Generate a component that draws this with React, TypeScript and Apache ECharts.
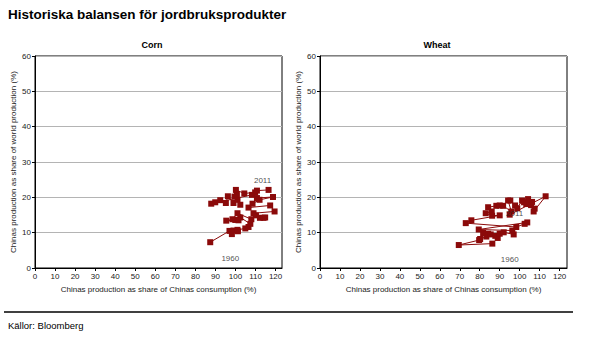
import React, { useEffect, useRef } from "react";
import * as echarts from "echarts";

const TITLE = "Historiska balansen för jordbruksprodukter";
const SOURCE = "Källor: Bloomberg";
const PANEL_TITLES = ["Corn", "Wheat"];
const X_NAME = "Chinas production as share of Chinas consumption (%)";
const Y_NAME = "Chinas production as share of world production (%)";
const X_TICKS = [0, 10, 20, 30, 40, 50, 60, 70, 80, 90, 100, 110, 120];
const Y_TICKS = [0, 10, 20, 30, 40, 50, 60];

// Corn: chronological path 1960 -> 2011
const cornX = [87.4, 97, 98.2, 99, 101.2, 101, 104.9, 106.5, 107.4, 102.4, 99.9, 101.5, 95.4, 98.5, 101, 107.9, 110.2, 112.2, 114, 114.8, 109, 119.5, 117.3, 106.5, 108.5, 112, 118.7, 110.7, 108.2, 87.9, 89.9, 92.4, 95.2, 96.2, 99, 101, 102.4, 99.5, 100.7, 100.2, 104.4, 109.8, 110.7, 116.5];
const cornY = [7.3, 10.5, 9.6, 10.6, 10.4, 10.8, 11.2, 11.6, 12.5, 14.3, 13.6, 13.5, 13.4, 13.8, 15.5, 13.8, 14.9, 14.2, 14.2, 14.3, 15.5, 16, 17.7, 17.1, 18.2, 19.3, 20.1, 19.8, 20.7, 18.2, 18.6, 19.2, 18.4, 20.3, 18.4, 19.3, 17.9, 20.2, 20.9, 22.1, 21.1, 21.4, 21.9, 22.1];

// Wheat: chronological path 1960 -> 2011
const wheatX = [86.3, 69.5, 79.7, 80.2, 83.3, 81.7, 84.2, 85.5, 89, 87.8, 90, 92, 97, 96.3, 79.5, 103.8, 102.5, 98.3, 73, 75.8, 90, 86.2, 83, 86, 84.2, 88.3, 90, 91.7, 95.8, 94.2, 95.3, 97.7, 98.8, 101.2, 102.2, 103.3, 104.2, 105.7, 106.2, 107.5, 107, 113, 95];
const wheatY = [6.9, 6.5, 7.9, 8.2, 8.9, 9.9, 9.7, 9.5, 8.5, 9.1, 9.7, 10.1, 9.5, 10.6, 10.9, 12.9, 12.5, 11.6, 12.7, 13.5, 14.9, 14.8, 15.5, 16, 17.2, 17.6, 17.7, 17.6, 16, 19.1, 19.1, 17.7, 16.9, 19.1, 18.6, 18.1, 19.5, 17.8, 18.7, 16.8, 16, 20.3, 15.1];

// Year annotations [x, y, text]
const cornLabels: [number, number, string][] = [[113.5, 24.7, "2011"], [97.4, 2.8, "1960"]];
const wheatLabels: [number, number, string][] = [[97.5, 15.5, "2011"], [95, 2.5, "1960"]];

const RED = "#8B0A0A";
const FONT = "Liberation Sans, Arial, sans-serif";

export default function App() {
  const ref = useRef<HTMLDivElement>(null);
  useEffect(() => {
    if (!ref.current) return;
    const chart = echarts.init(ref.current, undefined, { renderer: "svg" });
    const grids = [
      { left: 35, right: 315, top: 56, bottom: 91, show: true, borderColor: "#000", borderWidth: 1, backgroundColor: "#fff" },
      { left: 320, right: 30, top: 56, bottom: 91, show: true, borderColor: "#000", borderWidth: 1, backgroundColor: "#fff" },
    ];
    const xAxis = [0, 1].map((i) => ({
      type: "value",
      gridIndex: i,
      min: 0,
      max: i === 0 ? 123.2 : 123.7,
      name: X_NAME,
      nameLocation: "middle",
      nameGap: 17,
      nameTextStyle: { fontFamily: FONT, fontSize: 8, color: "#222" },
      axisLine: { show: true, lineStyle: { color: "#000" } },
      axisTick: { show: true, length: 3, lineStyle: { color: "#000" }, customValues: X_TICKS },
      axisLabel: { fontFamily: FONT, fontSize: 8, color: "#222", margin: 4, customValues: X_TICKS },
      splitLine: { show: false },
    }));
    const yAxis = [0, 1].map((i) => ({
      type: "value",
      gridIndex: i,
      min: Y_TICKS[0],
      max: Y_TICKS[Y_TICKS.length - 1],
      interval: 10,
      name: Y_NAME,
      nameLocation: "middle",
      nameGap: 18,
      nameTextStyle: { fontFamily: FONT, fontSize: 8, color: "#222" },
      axisLine: { show: true, lineStyle: { color: "#000" } },
      axisTick: { show: true, length: 3, lineStyle: { color: "#000" } },
      axisLabel: { fontFamily: FONT, fontSize: 8, color: "#222", margin: 4 },
      splitLine: { show: true, lineStyle: { color: "#b4b4b4", width: 1 } },
    }));
    const dataSeries = [
      [cornX, cornY],
      [wheatX, wheatY],
    ].map(([xs, ys], i) => ({
      type: "line",
      xAxisIndex: i,
      yAxisIndex: i,
      data: xs.map((x, k) => [x, ys[k]]),
      symbol: "rect",
      symbolSize: 6,
      showAllSymbol: true,
      itemStyle: { color: RED },
      lineStyle: { color: RED, width: 1 },
      z: 3,
    }));
    const labelSeries = [cornLabels, wheatLabels].map((labs, i) => ({
      type: "scatter",
      xAxisIndex: i,
      yAxisIndex: i,
      symbolSize: 0,
      data: labs.map(([x, y, t]) => ({ value: [x, y], name: t })),
      label: {
        show: true,
        position: "inside",
        formatter: (p: any) => p.name,
        fontFamily: FONT,
        fontSize: 8,
        color: "#222",
      },
      z: 5,
    }));
    chart.setOption({
      animation: false,
      backgroundColor: "#fff",
      title: [
        { text: TITLE, left: 3, top: 2, textStyle: { fontFamily: FONT, fontSize: 13.5, fontWeight: "bold", color: "#000" } },
        { text: PANEL_TITLES[0], left: 147, top: 35, textAlign: "center", textStyle: { fontFamily: FONT, fontSize: 9, fontWeight: "bold", color: "#000" } },
        { text: PANEL_TITLES[1], left: 432, top: 35, textAlign: "center", textStyle: { fontFamily: FONT, fontSize: 9, fontWeight: "bold", color: "#000" } },
        { text: SOURCE, left: 3, top: 315, textStyle: { fontFamily: FONT, fontSize: 9.5, fontWeight: "normal", color: "#000" } },
      ],
      graphic: [
        { type: "line", shape: { x1: 4, y1: 312, x2: 573, y2: 312 }, style: { stroke: "#000", lineWidth: 1.5 } },
      ],
      grid: grids,
      xAxis,
      yAxis,
      series: [...dataSeries, ...labelSeries],
    });
    return () => chart.dispose();
  }, []);
  return <div ref={ref} style={{ position: "fixed", left: 0, top: 0, width: 597, height: 359 }} />;
}
